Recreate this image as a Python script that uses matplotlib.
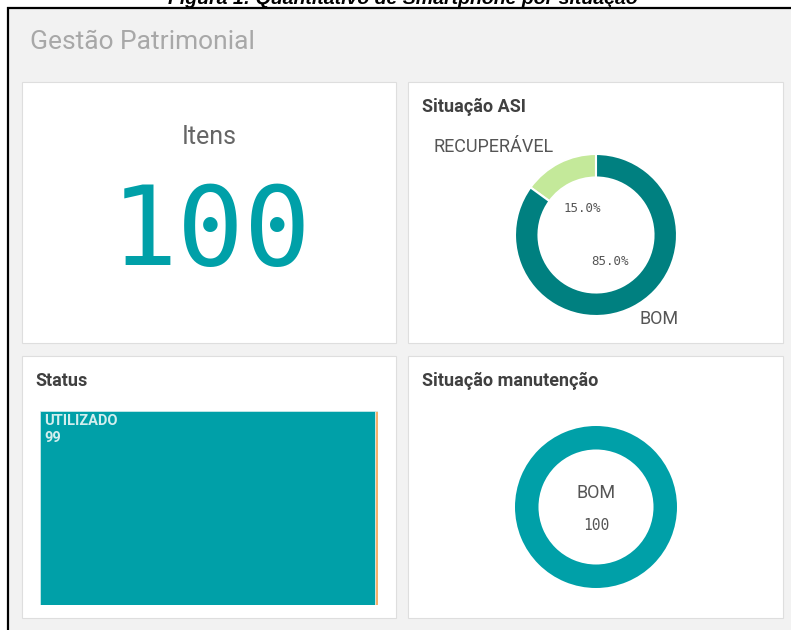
import matplotlib.pyplot as plt
from matplotlib.patches import Rectangle

# data
itens_total = 100
asi_labels = ["RECUPERÁVEL", "BOM"]
asi_values = [15, 85]
status_labels = ["UTILIZADO", "OUTROS"]
status_values = [99, 1]
manut_labels = ["BOM"]
manut_values = [100]

W, H = 791, 630
fig = plt.figure(figsize=(W / 100, H / 100), dpi=100)
fig.patch.set_facecolor("white")

TEAL = "#00a0a8"
DARK_TEAL = "#008080"
LIGHT_GREEN = "#c4e99a"
ORANGE = "#f7b06a"
SANS = ["Roboto", "DejaVu Sans"]
MONO = "DejaVu Sans Mono"


def fig_box(x0, y0, x1, y1):
    # pixel box (top-left origin) -> figure fraction
    return [x0 / W, 1 - y1 / H, (x1 - x0) / W, (y1 - y0) / H]


bg = fig.add_axes([0, 0, 1, 1])
bg.set_xlim(0, W)
bg.set_ylim(H, 0)
bg.axis("off")

# sheet background + black frame
bg.add_patch(Rectangle((8, 8), W - 8, H - 8, facecolor="#f2f2f2", edgecolor="none"))
bg.plot([7, W], [8, 8], color="black", lw=1.6, solid_capstyle="butt")
bg.plot([8, 8], [7, H], color="black", lw=1.6, solid_capstyle="butt")

# caption (cut at the top in the original)
bg.text(403, 4, "Figura 1: Quantitativo de Smartphone por situação", ha="center",
        va="baseline", fontsize=14, fontweight="bold", fontstyle="italic",
        family="Liberation Sans", color="black")

bg.text(30, 42, "Gestão Patrimonial", ha="left", va="center", fontsize=19,
        family=SANS, color="#a8a8a8")

cards = [(22, 82, 396, 343), (408, 82, 783, 343), (22, 356, 396, 618), (408, 356, 783, 618)]
for x0, y0, x1, y1 in cards:
    bg.add_patch(Rectangle((x0 + 1, y0 + 1), x1 - x0, y1 - y0, facecolor="#e4e4e4",
                           edgecolor="none"))
    bg.add_patch(Rectangle((x0, y0), x1 - x0, y1 - y0, facecolor="white",
                           edgecolor="#dedede", lw=0.8))

# card 1: KPI
bg.text(209, 137, "Itens", ha="center", va="center", fontsize=18, family=SANS, color="#666666")
bg.text(211, 234, str(itens_total), ha="center", va="center", fontsize=80, family=MONO,
        color=TEAL)

# card titles
for x, y, t in [(422, 107, "Situação ASI"), (35, 381, "Status"), (422, 381, "Situação manutenção")]:
    bg.text(x, y, t, ha="left", va="center", fontsize=13, fontweight="bold", family=SANS,
            color="#404040")

# card 2: ASI donut
R = 81
cx, cy = 596, 235
ax1 = fig.add_axes(fig_box(cx - 2 * R, cy - 2 * R, cx + 2 * R, cy + 2 * R))
ax1.pie(asi_values, colors=[LIGHT_GREEN, DARK_TEAL], startangle=90, radius=1,
        autopct="%.1f%%", pctdistance=0.37,
        wedgeprops=dict(width=0.29, edgecolor="white", linewidth=1.5),
        textprops=dict(family=MONO, fontsize=9, color="#555555"))
ax1.set_xlim(-2, 2)
ax1.set_ylim(-2, 2)
ax1.set_aspect("equal")
ax1.axis("off")
ax1.text(-1.27, 1.09, asi_labels[0], ha="center", va="center", fontsize=13, family=SANS,
         color="#555555")
ax1.text(0.78, -1.04, asi_labels[1], ha="center", va="center", fontsize=13, family=SANS,
         color="#555555")

# card 3: status treemap
tx0, ty0, tx1, ty1 = 40, 411, 378, 605
ax2 = fig.add_axes(fig_box(tx0, ty0, tx1, ty1))
left = 0
for v, c in zip(status_values, [TEAL, ORANGE]):
    ax2.barh(0, v, left=left, height=1, color=c, edgecolor="#d7eeee", linewidth=0.5)
    left += v
ax2.set_xlim(0, sum(status_values))
ax2.set_ylim(-0.5, 0.5)
ax2.axis("off")
fig.text(44 / W, 1 - 421 / H, status_labels[0], ha="left", va="center", fontsize=10.5,
         fontweight="bold", family=SANS, color="#d3eeee")
fig.text(44 / W, 1 - 438 / H, str(status_values[0]), ha="left", va="center", fontsize=10.5,
         fontweight="bold", family=SANS, color="#d3eeee")

# card 4: manutencao donut
cx, cy = 596, 507
ax3 = fig.add_axes(fig_box(cx - 2 * R, cy - 2 * R, cx + 2 * R, cy + 2 * R))
ax3.pie(manut_values, colors=[TEAL], startangle=90, radius=1,
        wedgeprops=dict(width=0.29, edgecolor="white", linewidth=0))
ax3.set_xlim(-2, 2)
ax3.set_ylim(-2, 2)
ax3.set_aspect("equal")
ax3.axis("off")
ax3.text(0, 0.17, manut_labels[0], ha="center", va="center", fontsize=13, family=SANS,
         color="#555555")
ax3.text(0, -0.23, str(manut_values[0]), ha="center", va="center", fontsize=10.5, family=MONO,
         color="#555555")

fig.savefig("out.png", dpi=100, facecolor="white")
